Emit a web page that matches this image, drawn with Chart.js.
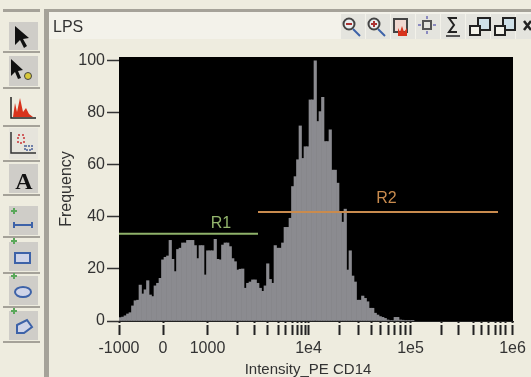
<!DOCTYPE html>
<html>
<head>
<meta charset="utf-8">
<title>LPS</title>
<script src="https://cdn.jsdelivr.net/npm/chart.js@4"></script>
<style>
html, body { margin: 0; padding: 0; background: #eeecdf; overflow: hidden; }
#page { position: relative; width: 531px; height: 377px; overflow: hidden; font-family: "Liberation Sans", Arial, sans-serif; filter: blur(0.45px); }
#page > div, #page > svg, #page > canvas { position: absolute; }
.bar { background: #a5a299; }
.btn { left: 9px; width: 29px; background: #cfcdc8; }
.sep { left: 3px; width: 37px; height: 2px; background: #a5a299; }
.tool { top: 14px; width: 24px; height: 25px; background: #e4e4de; }
#lps { left: 53px; top: 18px; font-size: 16px; color: #333; }
</style>
</head>
<body>
<div id="page">
  <div class="bar" style="left:3px;top:9px;width:37px;height:3px"></div>
  <div class="bar" style="left:44px;top:9px;width:487px;height:3px"></div>
  <div class="bar" style="left:44px;top:9px;width:5px;height:368px"></div>
  <div style="left:49px;top:12px;width:482px;height:27px;background:#f3f2ea"></div>
  <div class="tool" style="left:341px"></div><div class="tool" style="left:366px"></div>
  <div class="tool" style="left:391px"></div><div class="tool" style="left:416px"></div>
  <div class="tool" style="left:441px"></div><div class="tool" style="left:466px"></div>
  <div class="tool" style="left:491px"></div><div class="tool" style="left:516px"></div>
  <div class="sep" style="top:51px"></div><div class="sep" style="top:87px"></div>
  <div class="sep" style="top:125px"></div><div class="sep" style="top:160px"></div>
  <div class="sep" style="top:194px"></div><div class="sep" style="top:236px"></div>
  <div class="sep" style="top:272px"></div><div class="sep" style="top:306px"></div>
  <div class="sep" style="top:341px"></div>
  <div class="btn" style="top:22px;height:28px"></div>
  <div class="btn" style="top:56px;height:30px"></div>
  <div class="btn" style="top:93px;height:31px;background:#eeecdf"></div>
  <div class="btn" style="top:128px;height:31px;background:#e6e4dc"></div>
  <div class="btn" style="top:164px;height:29px"></div>
  <div class="btn" style="top:206px;height:29px"></div>
  <div class="btn" style="top:242px;height:29px"></div>
  <div class="btn" style="top:276px;height:29px"></div>
  <div class="btn" style="top:311px;height:29px"></div>

  <svg style="left:0;top:0" width="531" height="377">
    <path d="M15 26 L15 45 L20 40 L24 48 L27 46 L23 39 L29 38 Z" fill="#111"/>
    <path d="M11 59 L11 76 L15 72 L18 79 L21 78 L18 71 L23 70 Z" fill="#111"/>
    <circle cx="28" cy="76" r="3.5" fill="#d8c838" stroke="#444"/>
    <path d="M11 97 V118 H36" fill="none" stroke="#222" stroke-width="1.5"/>
    <path d="M13 117 L15 103 L17 112 L20 98 L23 112 L26 108 L29 114 L33 117 Z" fill="#d8331c"/>
    <path d="M11 132 V153 H36" fill="none" stroke="#333" stroke-width="1.5"/>
    <path d="M18 135 h6 v8 h-6z" fill="none" stroke="#d06060" stroke-width="2" stroke-dasharray="2 2"/>
    <path d="M25 146 h7 v4 h-7z" fill="none" stroke="#7080a8" stroke-width="2" stroke-dasharray="2 1"/>
    <text x="24" y="189" font-family="Liberation Serif" font-weight="bold" font-size="24" text-anchor="middle" fill="#111">A</text>
    <path d="M14 214 V208 M11 211 H17 M14 244 V238 M11 241 H17 M14 279 V273 M11 276 H17 M14 314 V308 M11 311 H17" stroke="#5aa85a" stroke-width="2"/>
    <path d="M14 225 H32 M14 222 V228 M32 222 V228" stroke="#3d62a8" stroke-width="2"/>
    <rect x="15" y="253" width="15" height="10" fill="#cfd4e8" stroke="#3d62a8" stroke-width="2"/>
    <ellipse cx="23" cy="292" rx="8" ry="5" fill="#cfd4e8" stroke="#3d62a8" stroke-width="2"/>
    <path d="M17 325 L27 320 L32 327 L24 333 L17 333 Z" fill="#cfd4e8" stroke="#3d62a8" stroke-width="2"/>

    <g fill="none" stroke-width="2">
      <circle cx="349" cy="24" r="5.5" fill="#e8eef0" stroke="#444"/><path d="M353 29 L360 36" stroke="#3d62a8"/><path d="M346 24 h6" stroke="#a33"/>
      <circle cx="374" cy="24" r="5.5" fill="#e8eef0" stroke="#444"/><path d="M378 29 L385 36" stroke="#3d62a8"/><path d="M371 24 h6 M374 21 v6" stroke="#a33"/>
      <rect x="394" y="19" width="13" height="13" fill="#f0d8d0" stroke="#444"/><path d="M398 36 v-8 l2 4 l2 -6 l2 6 l3 -4 v8 z" fill="#d8331c" stroke="none"/>
      <rect x="423" y="21" width="8" height="8" stroke="#555"/><path d="M427 16 v3 M427 31 v3 M418 25 h3 M433 25 h3" stroke="#8a8ac0"/>
      <path d="M457 18 H449 L454 25 L449 32 H457" stroke="#222"/><path d="M446 36 H460" stroke="#555"/>
      <rect x="478" y="18" width="12" height="12" fill="#cfe0e8" stroke="#222"/><rect x="470" y="26" width="10" height="9" fill="#f3f2ea" stroke="#222"/>
      <rect x="503" y="18" width="12" height="12" fill="#cfe0e8" stroke="#222"/><rect x="495" y="26" width="10" height="9" fill="#f3f2ea" stroke="#222"/>
      <path d="M524 21 L531 30 M531 21 L524 30" stroke="#222" stroke-width="2.5"/>
    </g>
  </svg>

  <div id="lps">LPS</div>
  <canvas id="histogram" width="531" height="377" style="left:0;top:0"></canvas>
</div>

<script>
// frequency of each histogram bin
const binValues = [
  1.3, 1.5, 2, 2.7, 3.2, 5.8, 7.8, 8, 13.8, 10.4,
  12, 15.5, 10, 9.4, 13.5, 14.5, 16.4, 23.5, 24.5, 25,
  31, 23.7, 19, 27.5, 28, 30, 30, 31, 31, 31,
  29, 24, 29, 29, 17.7, 27, 27, 27, 31.4, 23.7,
  23.5, 29.2, 30, 30, 28.6, 24, 22.8, 19.6, 19.9, 20,
  12.6, 14.5, 15, 15.8, 15.8, 14.5, 12.6, 11.4, 13.5, 22,
  16, 14.5, 29, 28, 28, 30, 36, 36, 39.5, 51.7,
  55.5, 62, 75, 62.5, 67, 67, 85, 85, 100, 76.7,
  80.5, 86, 69, 69, 73.5, 58, 58, 53, 42, 38,
  43, 19.6, 27, 17.3, 15, 8, 8, 9.6, 8.7, 7.4,
  4.9, 4.9, 3, 2.3, 1.7, 1.4, 1, 0.4, 0.2, 0.2,
  1.4, 1.4, 0.4, 0.3, 0.2, 0.2, 0.2, 0.1
];

// x axis is in bin units (the intensity axis is biexponential)
const binCount = 157.6;
const xTickBins = [
  0, 17.6, 35.4, 47.2, 54.2, 59.2, 63.6, 66.6, 69.2, 71.2, 72.8, 74.4, 75.8,
  88, 95.6, 101, 104.6, 107.8, 110, 112.4, 114.4, 116.6,
  129, 135.8, 141.6, 145, 147.6, 150.4, 152.4, 154.4, 157.4
];
const xTickNames = { 0: '-1000', 17.6: '0', 35.4: '1000', 75.8: '1e4', 116.6: '1e5', 157.4: '1e6' };
const xAxisName = 'Intensity_PE CD14';
const xAxisNameBin = 75.6;

// gates
const r1Bins = [0, 55.6];
const r1Level = 33.5;
const r2Bins = [55.6, 151.6];
const r2Level = 41.9;
const gateLabels = [
  { text: 'R1', x: 40.8, y: 37.3, color: '#93b56c' },
  { text: 'R2', x: 107, y: 47, color: '#c98b4e' }
];

const FONT = '"Liberation Sans", Arial, sans-serif';
const INK = '#333333';
const PAPER = '#eeecdf';

// black plot background, drawn before the bars
const plotBackground = {
  id: 'plotBackground',
  beforeDatasetsDraw(chart) {
    const a = chart.chartArea;
    chart.ctx.save();
    chart.ctx.fillStyle = '#000';
    chart.ctx.fillRect(a.left, a.top, a.right - a.left, a.bottom - a.top);
    chart.ctx.restore();
  }
};

// gate names, the x axis name and the small gap under the axis line
const plotText = {
  id: 'plotText',
  afterDraw(chart) {
    const ctx = chart.ctx;
    const a = chart.chartArea;
    const xs = chart.scales.x;
    const ys = chart.scales.y;
    ctx.save();
    ctx.fillStyle = PAPER;
    ctx.fillRect(a.left - 2, a.bottom + 2, a.right - a.left + 4, 2);
    ctx.font = '16px ' + FONT;
    ctx.textAlign = 'center';
    ctx.textBaseline = 'middle';
    gateLabels.forEach(function (g) {
      ctx.fillStyle = g.color;
      ctx.fillText(g.text, xs.getPixelForValue(g.x), ys.getPixelForValue(g.y));
    });
    ctx.font = '15px ' + FONT;
    ctx.fillStyle = INK;
    ctx.fillText(xAxisName, xs.getPixelForValue(xAxisNameBin), xs.bottom - 7);
    ctx.restore();
  }
};

new Chart(document.getElementById('histogram'), {
  data: {
    datasets: [
      {
        type: 'line',
        data: r1Bins.map(function (b) { return { x: b, y: r1Level }; }),
        borderColor: '#8fb26a',
        borderWidth: 2,
        pointRadius: 0,
        order: 1
      },
      {
        type: 'line',
        data: r2Bins.map(function (b) { return { x: b, y: r2Level }; }),
        borderColor: '#c98b4e',
        borderWidth: 2,
        pointRadius: 0,
        order: 1
      },
      {
        type: 'bar',
        data: binValues.map(function (v, i) { return { x: i + 0.5, y: v }; }),
        backgroundColor: '#8b8b90',
        barPercentage: 1,
        categoryPercentage: 1,
        order: 2
      }
    ]
  },
  options: {
    responsive: false,
    animation: false,
    layout: { padding: { right: 18, top: 57, left: 57, bottom: 0 } },
    plugins: { legend: { display: false }, tooltip: { enabled: false } },
    scales: {
      x: {
        type: 'linear',
        offset: false,
        min: 0,
        max: binCount,
        afterBuildTicks: function (scale) {
          scale.ticks = xTickBins.map(function (b) { return { value: b }; });
        },
        afterFit: function (scale) { scale.height = 56; },
        grid: { offset: false, drawOnChartArea: false, tickLength: 14, tickColor: '#222', tickWidth: 2 },
        border: { color: '#222', width: 1 },
        ticks: {
          autoSkip: false,
          maxRotation: 0,
          padding: 4,
          color: INK,
          font: { family: FONT, size: 16 },
          callback: function (value) { return xTickNames[value] || ''; }
        }
      },
      y: {
        min: 0,
        max: 101.5,
        afterFit: function (scale) { scale.width = 62; },
        grid: { drawOnChartArea: false, tickLength: 12, tickColor: '#333', tickWidth: 1.5 },
        border: { display: false },
        ticks: {
          stepSize: 20,
          includeBounds: false,
          padding: 2,
          color: INK,
          font: { family: FONT, size: 16 }
        },
        title: {
          display: true,
          text: 'Frequency',
          color: INK,
          font: { family: FONT, size: 16 },
          padding: { top: 0, bottom: 0 }
        }
      }
    }
  },
  plugins: [plotBackground, plotText]
});
</script>
</body>
</html>
